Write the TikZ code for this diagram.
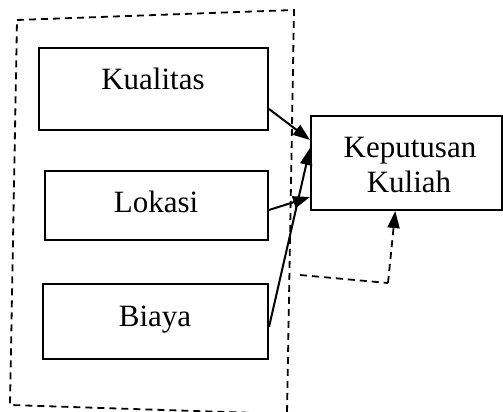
\documentclass[tikz,border=0pt]{standalone}
\usepackage{fontspec}
\setmainfont{Liberation Serif}
\usetikzlibrary{arrows.meta}
\begin{document}
\begin{tikzpicture}[x=1pt,y=-1pt,
  boxnode/.style={draw=black, line width=2pt, inner sep=0pt, anchor=center},
  txt/.style={inner sep=0pt, anchor=base, font=\fontsize{31}{35}\selectfont},
  arr/.style={line width=2pt, -{Triangle[length=17pt,width=12pt]}},
  dsh/.style={line width=1.8pt, dash pattern=on 7pt off 5pt}]
\useasboundingbox (0,0) rectangle (503,412);
\clip (0,0) rectangle (503,412);
% dashed outline
\draw[dsh] (17,20) -- (294,10) -- (287,414) -- (10,405) -- cycle;
% boxes
\node[boxnode, minimum width=229pt, minimum height=82pt] (kual) at (153.5,89) {};
\node[boxnode, minimum width=223pt, minimum height=69pt] (lok) at (156.5,205.5) {};
\node[boxnode, minimum width=225pt, minimum height=75pt] (bia) at (155.5,321.5) {};
\node[boxnode, minimum width=190.5pt, minimum height=94pt] (kep) at (406.25,163) {};
% texts
\node[txt] (tkual) at (153,89) {Kualitas};
\node[txt] (tlok) at (156,212) {Lokasi};
\node[txt] (tbia) at (155,326) {Biaya};
\node[txt] (tkep1) at (410,157) {Keputusan};
\node[txt] (tkep2) at (409,192) {Kuliah};
% arrows
\draw[arr] ([yshift=-20pt]kual.east) -- ([yshift=23pt]kep.west);
\draw[arr] ([yshift=-4.5pt]lok.east) -- ([yshift=-34pt]kep.west);
\draw[arr] ([yshift=-5.5pt]bia.east) -- ([yshift=15pt]kep.west);
% feedback dashed
\coordinate (f1) at (300,275);
\coordinate (f2) at (388,283);
\draw[dsh] (f1) -- (f2);
\draw[dsh, -{Triangle[length=17pt,width=12pt]}] (f2) -- ([xshift=-11pt]kep.south);
\end{tikzpicture}
\end{document}
